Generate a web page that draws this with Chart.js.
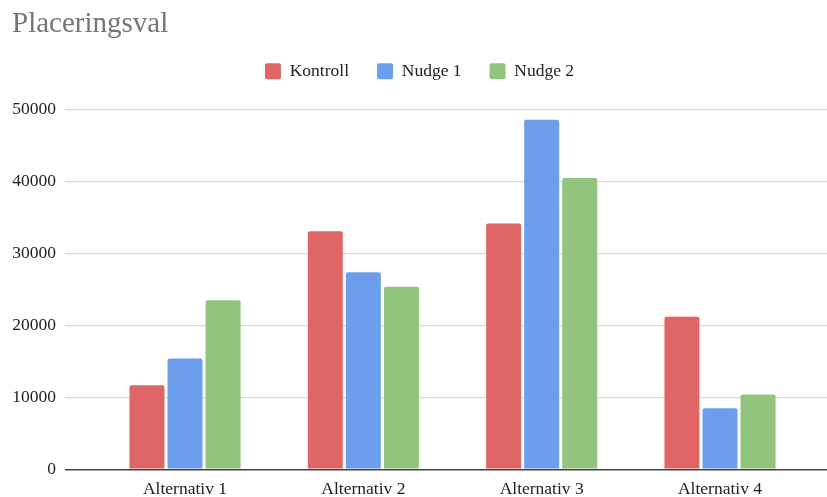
<!DOCTYPE html>
<html>
<head>
<meta charset="utf-8">
<script src="https://cdn.jsdelivr.net/npm/chart.js@4/dist/chart.umd.min.js"></script>
<style>
  html, body { margin: 0; padding: 0; background: #ffffff; }
  #wrap { width: 827px; height: 497px; position: relative; }
</style>
</head>
<body>
<div id="wrap"><canvas id="c" width="827" height="497"></canvas></div>
<script>
// Placement choices per alternative, three experiment groups
const categories = ['Alternativ 1', 'Alternativ 2', 'Alternativ 3', 'Alternativ 4'];
const seriesNames = ['Kontroll', 'Nudge 1', 'Nudge 2'];
const kontroll = [11700, 33100, 34200, 21200];
const nudge1 = [15400, 27400, 48600, 8500];
const nudge2 = [23500, 25400, 40500, 10400];
const yTicks = [0, 10000, 20000, 30000, 40000, 50000];

const colors = ['#e06666', '#6d9eeb', '#93c47d'];
const serif = "'Liberation Serif', 'Times New Roman', serif";

// Bars sit on a numeric index axis so the plot band can run wider than the groups
const toPoints = arr => arr.map((v, i) => ({ x: i, y: v }));

const datasets = [kontroll, nudge1, nudge2].map((vals, k) => ({
  label: seriesNames[k],
  data: toPoints(vals),
  xAxisID: 'x',
  yAxisID: 'y',
  backgroundColor: colors[k],
  borderWidth: 0,
  borderRadius: { topLeft: 2, topRight: 2, bottomLeft: 0, bottomRight: 0 },
  borderSkipped: 'bottom',
  categoryPercentage: 0.64,
  barPercentage: 0.92
}));

new Chart(document.getElementById('c'), {
  type: 'bar',
  data: { datasets },
  options: {
    responsive: false,
    animation: false,
    devicePixelRatio: 1,
    layout: { padding: { left: 12, right: 0, top: 0, bottom: 0 } },
    plugins: {
      title: {
        display: true,
        text: 'Placeringsval',
        align: 'start',
        color: '#757575',
        font: { family: serif, size: 29, weight: 'normal', lineHeight: 1.2 },
        padding: { top: 6.5, bottom: -6.8 }
      },
      legend: {
        position: 'top',
        align: 'center',
        fullSize: true,
        labels: {
          color: '#222222',
          font: { family: serif, size: 17.5 },
          boxWidth: 16,
          boxHeight: 16,
          padding: 28,
          useBorderRadius: true,
          borderRadius: 2
        }
      },
      tooltip: { enabled: false }
    },
    scales: {
      x: {
        type: 'linear',
        min: -0.673,
        max: 3.6,
        offset: false,
        grid: { display: false, drawTicks: false },
        border: { display: false },
        afterFit: s => { s.height = 27.7; },
        ticks: {
          stepSize: 1,
          includeBounds: false,
          autoSkip: false,
          maxRotation: 0,
          padding: 10,
          color: '#222222',
          font: { family: serif, size: 17.5 },
          callback: v => categories[v] ?? ''
        }
      },
      y: {
        min: 0,
        max: 50000,
        afterFit: s => { s.width = 53; },
        afterBuildTicks: s => { s.ticks = yTicks.map(v => ({ value: v })); },
        border: { display: false },
        grid: {
          drawTicks: false,
          color: c => (c.tick && c.tick.value === 0 ? '#444444' : '#d9d9d9'),
          lineWidth: c => (c.tick && c.tick.value === 0 ? 1.4 : 1.2)
        },
        ticks: {
          padding: 9,
          color: '#222222',
          font: { family: serif, size: 17.5 },
          callback: v => String(v)
        }
      },
      // empty band between the legend and the plot
      spacer: {
        type: 'linear',
        axis: 'x',
        position: 'top',
        display: true,
        grid: { display: false, drawTicks: false },
        border: { display: false },
        ticks: { display: false },
        afterFit: s => { s.height = 19.8; }
      }
    }
  }
});
</script>
</body>
</html>
